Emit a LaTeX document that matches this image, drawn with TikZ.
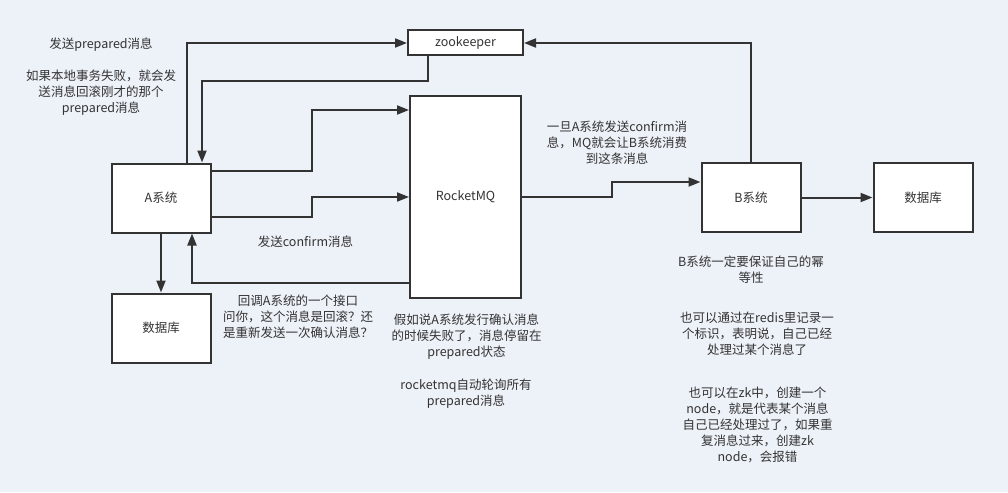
\documentclass[tikz,border=0pt]{standalone}
\usepackage{fontspec}
\usepackage{xcolor}
\usetikzlibrary{arrows.meta,positioning}
\setmainfont{Noto Sans CJK SC}
\definecolor{pagebg}{HTML}{EDF1F8}
\definecolor{linegray}{HTML}{333333}
\definecolor{textgray}{HTML}{333333}

\begin{document}
\begin{tikzpicture}[
        x=1pt, y=-1pt,
        every node/.style={font=\fontsize{12.5}{16}\selectfont, text=textgray, align=center},
        box/.style={draw=linegray, fill=white, line width=2pt, inner sep=0pt, minimum width=99pt, minimum height=69pt},
        arrow/.style={-{Triangle[length=12pt,width=9pt]}, line width=2pt, draw=linegray}
    ]
        \fill[pagebg] (0,0) rectangle (1008,492);
        % boxes
        \node[box, minimum width=115pt, minimum height=25pt] (zk) at (465.5,43) {zookeeper};
        \node[box, minimum width=111pt, minimum height=201pt] (mq) at (465.5,197) {RocketMQ};
        \node[box] (asys) at (161,198) {A系统};
        \node[box] (adb) at (161,328) {数据库};
        \node[box] (bsys) at (751,197.5) {B系统};
        \node[box] (bdb) at (923,197.5) {数据库};
        % connectors
        \draw[arrow] ([xshift=26pt]asys.north) |- (zk.west);
        \draw[arrow] ([xshift=-38pt]zk.south) -- ++(0,25) -| ([xshift=41pt]asys.north);
        \draw[arrow] ([yshift=27pt]asys.east) -- ++(100,0) |- ([yshift=87pt]mq.west);
        \draw[arrow] ([yshift=-19pt]asys.east) -- ++(100,0) |- (mq.west);
        \draw[arrow] ([yshift=-86pt]mq.west) -| ([xshift=31pt]asys.south);
        \draw[arrow] (asys.south) -- (adb.north);
        \draw[arrow] (mq.east) -- ++(90,0) |- ([yshift=15.5pt]bsys.west);
        \draw[arrow] (bsys.north) |- (zk.east);
        \draw[arrow] (bsys.east) -- (bdb.west);
        % notes
        \node (n1) at (101,45) {发送prepared消息};
        \node (n2) at (101,93) {如果本地事务失败，就会发\\送消息回滚刚才的那个\\prepared消息};
        \node (n3) at (305.5,242) {发送confirm消息};
        \node (n4) at (298,317) {回调A系统的一个接口\\问你，这个消息是回滚？还\\是重新发送一次确认消息？};
        \node (n5) at (466.5,337) {假如说A系统发行确认消息\\的时候失败了，消息停留在\\prepared状态};
        \node (n6) at (466,394) {rocketmq自动轮询所有\\prepared消息};
        \node (n7) at (617,143) {一旦A系统发送confirm消\\息，MQ就会让B系统消费\\到这条消息};
        \node (n8) at (751,269.5) {B系统一定要保证自己的幂\\等性};
        \node (n9) at (757,334) {也可以通过在redis里记录一\\个标识，表明说，自己已经\\处理过某个消息了};
        \node (n10) at (757.5,425) {也可以在zk中，创建一个\\node，就是代表某个消息\\自己已经处理过了，如果重\\复消息过来，创建zk\\node，会报错};
    \end{tikzpicture}
\end{document}
